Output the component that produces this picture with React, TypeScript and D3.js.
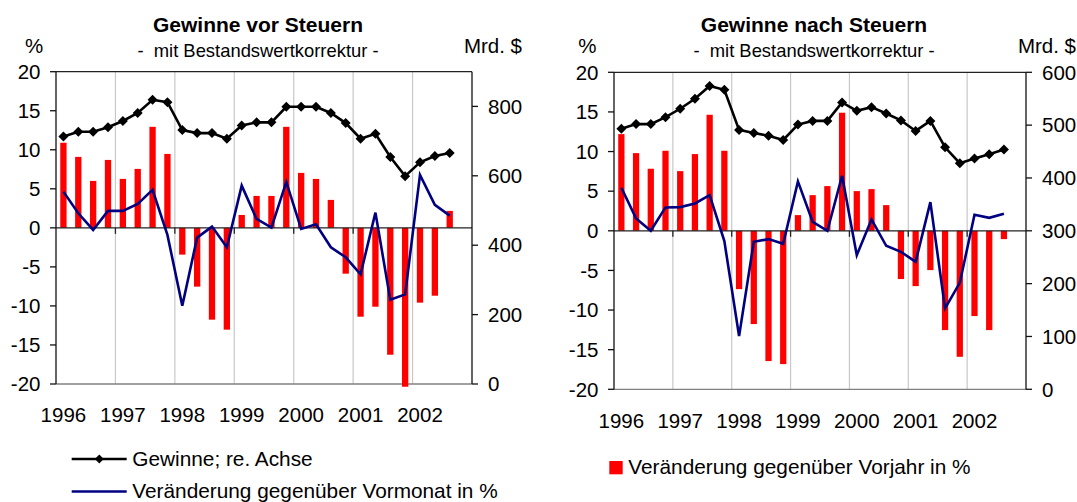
import React from 'react';
import * as d3 from 'd3';

const years = ['1996', '1997', '1998', '1999', '2000', '2001', '2002'];
const quarters = years.flatMap((y) => ['Q1', 'Q2', 'Q3', 'Q4'].map((q) => `${y}${q}`));

// Gewinne vor Steuern
const vorGewinne = [713, 727, 727, 740, 758, 781, 819, 812, 732, 723, 723, 707, 745, 754, 754, 799, 799, 799, 781, 752, 707, 721, 654, 599, 639, 657, 666];
const vorVormonat = [4.64, 1.87, -0.27, 2.17, 2.17, 3.06, 4.86, -0.91, -9.97, -1.25, 0.16, -2.49, 5.41, 1.14, 0.03, 5.88, -0.14, 0.46, -2.49, -3.77, -5.95, 1.95, -9.2, -8.52, 6.78, 2.94, 1.57];
const vorVorjahr = [10.9, 9.09, 6.01, 8.7, 6.27, 7.55, 12.94, 9.47, -3.43, -7.53, -11.76, -13.04, 1.65, 4.09, 4.09, 12.94, 7.04, 6.27, 3.58, -5.87, -11.38, -10.1, -16.25, -20.35, -9.58, -8.69, 2.17];

// Gewinne nach Steuern
const nachGewinne = [493, 502, 502, 515, 531, 550, 574, 567, 491, 485, 480, 472, 501, 508, 508, 543, 527, 534, 522, 509, 489, 508, 458, 428, 437, 445, 454];
const nachVormonat = [5.43, 1.56, 0, 2.95, 2.99, 3.45, 4.5, -1.3, -13.29, -1.39, -1.05, -1.64, 6.23, 1.14, 0, 6.94, -3.07, 1.43, -1.89, -2.65, -3.91, 3.62, -9.79, -6.56, 2.02, 1.64, 2.15];
const nachVorjahr = [12.2, 9.8, 7.83, 10.1, 7.53, 9.68, 14.64, 10.1, -7.36, -11.77, -16.44, -16.82, 1.98, 4.5, 5.64, 14.9, 5.01, 5.26, 3.24, -6.09, -6.98, -4.96, -12.53, -15.9, -10.76, -12.53, -1.05];

const pctTicks = [-20, -15, -10, -5, 0, 5, 10, 15, 20];
const vorRightTicks = [0, 200, 400, 600, 800];
const nachRightTicks = [0, 100, 200, 300, 400, 500, 600];

const FONT = '"Liberation Sans", Arial, Helvetica, sans-serif';

type PanelProps = {
  title: string;
  x0: number;
  x1: number;
  y0: number;
  y1: number;
  rightMax: number;
  rightTicks: number[];
  gewinne: number[];
  vormonat: number[];
  vorjahr: number[];
  titleX: number;
  mrdX: number;
  pctX: number;
};

function Panel(p: PanelProps) {
  const x = d3.scaleBand<string>().domain(quarters).range([p.x0, p.x1]).paddingInner(0.575).paddingOuter(0.2875);
  const yL = d3.scaleLinear().domain([-20, 20]).range([p.y1, p.y0]);
  const yR = d3.scaleLinear().domain([0, p.rightMax]).range([p.y1, p.y0]);
  const cx = (i: number) => (x(quarters[i]) as number) + x.bandwidth() / 2;
  const step = x.step();
  const lineG = d3.line<number>().x((_, i) => cx(i)).y((d) => yR(d));
  const lineV = d3.line<number>().x((_, i) => cx(i)).y((d) => yL(d));
  const diamond = d3.symbol(d3.symbolSquare, 50)();
  const zero = yL(0);
  const yearBounds = years.map((_, i) => p.x0 + i * 4 * step).slice(1);

  return (
    <g>
      <text x={p.titleX} y={31.7} textAnchor="middle" fontFamily={FONT} fontWeight="bold" fontSize={21}>{p.title}</text>
      <text x={p.titleX} y={56.5} textAnchor="middle" fontFamily={FONT} fontSize={18.4} style={{ whiteSpace: 'pre' }}>{'-  mit Bestandswertkorrektur -'}</text>
      <text x={p.pctX} y={53.3} fontFamily={FONT} fontSize={20.5}>%</text>
      <text x={p.mrdX} y={53.3} textAnchor="end" fontFamily={FONT} fontSize={20.5}>Mrd. $</text>

      {yearBounds.map((bx, i) => (
        <line key={'g' + i} x1={bx} x2={bx} y1={p.y0} y2={p.y1} stroke="#c8c8c8" strokeWidth={1.2} />
      ))}

      <line x1={p.x0} x2={p.x1} y1={p.y0} y2={p.y0} stroke="#222" strokeWidth={1.3} />
      <line x1={p.x0} x2={p.x1} y1={p.y1} y2={p.y1} stroke="#808080" strokeWidth={1.3} />

      {p.vorjahr.map((v, i) => (
        <rect key={'b' + i} x={x(quarters[i])} width={x.bandwidth()} y={Math.min(yL(v), zero)} height={Math.abs(yL(v) - zero)} fill="#ff0000" />
      ))}

      <line x1={p.x0} x2={p.x1} y1={zero} y2={zero} stroke="#222" strokeWidth={1.3} />
      {yearBounds.map((bx, i) => (
        <line key={'t' + i} x1={bx} x2={bx} y1={zero} y2={zero + 6} stroke="#222" strokeWidth={1.3} />
      ))}

      <line x1={p.x0} x2={p.x0} y1={p.y0} y2={p.y1} stroke="#111" strokeWidth={1.3} />
      {pctTicks.map((t) => (
        <g key={'l' + t}>
          <line x1={p.x0 - 6} x2={p.x0} y1={yL(t)} y2={yL(t)} stroke="#111" strokeWidth={1.3} />
          <text x={p.x0 - 15.5} y={yL(t) + 7.2} textAnchor="end" fontFamily={FONT} fontSize={20.5}>{t}</text>
        </g>
      ))}

      <line x1={p.x1} x2={p.x1} y1={p.y0} y2={p.y1} stroke="#111" strokeWidth={1.3} />
      {p.rightTicks.map((t) => (
        <g key={'r' + t}>
          <line x1={p.x1} x2={p.x1 + 6} y1={yR(t)} y2={yR(t)} stroke="#111" strokeWidth={1.3} />
          <text x={p.x1 + 16} y={yR(t) + 7.2} fontFamily={FONT} fontSize={20.5}>{t}</text>
        </g>
      ))}

      {years.map((yr, i) => (
        <text key={'x' + yr} x={cx(i * 4)} y={p.y1 + 38.3} textAnchor="middle" fontFamily={FONT} fontSize={20.5}>{yr}</text>
      ))}

      <path d={lineV(p.vormonat) || ''} fill="none" stroke="#000080" strokeWidth={2.6} strokeLinejoin="miter" />
      <path d={lineG(p.gewinne) || ''} fill="none" stroke="#000" strokeWidth={2.6} />
      {p.gewinne.map((v, i) => (
        <path key={'m' + i} d={diamond || ''} transform={`translate(${cx(i)},${yR(v)}) rotate(45)`} fill="#000" />
      ))}
    </g>
  );
}

export default function App() {
  const diamond = d3.symbol(d3.symbolSquare, 40)();
  return (
    <svg width={1077} height={502} style={{ position: 'absolute', left: 0, top: 0, display: 'block', background: '#fff' }}>
      <rect width={1077} height={502} fill="#fff" />
      <Panel
        title="Gewinne vor Steuern"
        x0={56} x1={472} y0={71.7} y1={384}
        rightMax={900} rightTicks={vorRightTicks}
        gewinne={vorGewinne} vormonat={vorVormonat} vorjahr={vorVorjahr}
        titleX={258} mrdX={522} pctX={25}
      />
      <Panel
        title="Gewinne nach Steuern"
        x0={614} x1={1026} y0={72.3} y1={389.3}
        rightMax={600} rightTicks={nachRightTicks}
        gewinne={nachGewinne} vormonat={nachVormonat} vorjahr={nachVorjahr}
        titleX={814} mrdX={1076} pctX={578.3}
      />

      <line x1={71.7} x2={126.7} y1={459} y2={459} stroke="#000" strokeWidth={2.6} />
      <path d={diamond || ''} transform="translate(99.3,459) rotate(45)" fill="#000" />
      <text x={132.3} y={466.3} fontFamily={FONT} fontSize={20.8}>Gewinne; re. Achse</text>
      <line x1={71.7} x2={126.7} y1={491.5} y2={491.5} stroke="#000080" strokeWidth={2.6} />
      <text x={132.3} y={497.5} fontFamily={FONT} fontSize={20.8}>Veränderung gegenüber Vormonat in %</text>

      <rect x={609.3} y={461} width={13.4} height={13.3} fill="#ff0000" />
      <text x={628.3} y={474.3} fontFamily={FONT} fontSize={20.8}>Veränderung gegenüber Vorjahr in %</text>
    </svg>
  );
}
